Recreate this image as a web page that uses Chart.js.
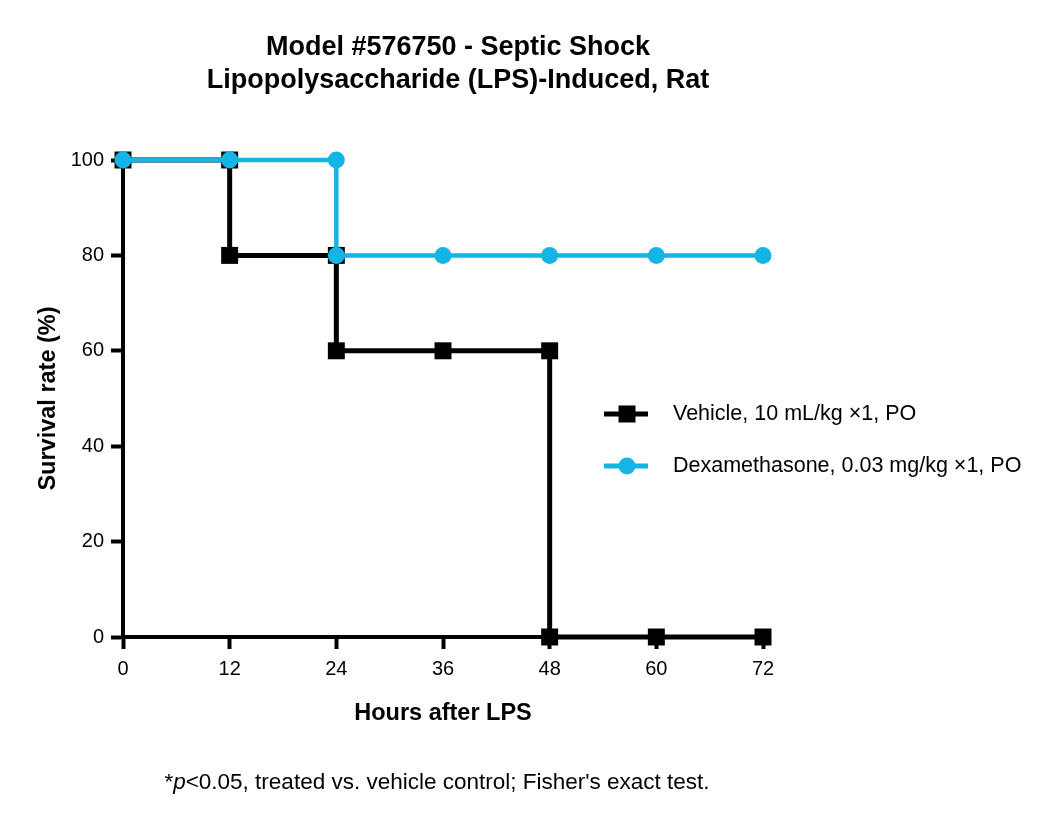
<!DOCTYPE html>
<html>
<head>
<meta charset="utf-8">
<script src="https://cdn.jsdelivr.net/npm/chart.js@4"></script>
<style>
  html, body { margin: 0; padding: 0; background: #fff; }
  #wrap { width: 1050px; height: 828px; position: relative; }
</style>
</head>
<body>
<div id="wrap"><canvas id="chart"></canvas></div>
<script>
// survival data (steps are given as repeated hours)
const vehicleHours = [0, 12, 12, 24, 24, 36, 48, 48, 60, 72];
const vehicleSurvival = [100, 100, 80, 80, 60, 60, 60, 0, 0, 0];
const dexHours = [0, 12, 24, 24, 36, 48, 60, 72];
const dexSurvival = [100, 100, 100, 80, 80, 80, 80, 80];

const seriesLabels = ['Vehicle, 10 mL/kg \u00d71, PO', 'Dexamethasone, 0.03 mg/kg \u00d71, PO'];
const titleLines = ['Model #576750 - Septic Shock', 'Lipopolysaccharide (LPS)-Induced, Rat'];
const xTitle = 'Hours after LPS';
const yTitle = 'Survival rate (%)';

const BLACK = '#000000';
const BLUE = '#14b4e4';
const FONT = "'Liberation Sans', Arial, sans-serif";

function toPoints(xs, ys) {
  return xs.map((x, i) => ({ x: x, y: ys[i] }));
}

// titles, legend and footnote drawn on top of the chart
const extras = {
  id: 'extras',
  afterDraw(chart) {
    const ctx = chart.ctx;
    ctx.save();
    ctx.fillStyle = '#000';
    ctx.textAlign = 'center';
    ctx.textBaseline = 'middle';
    ctx.font = 'bold 27px ' + FONT;
    ctx.fillText(titleLines[0], 458, 48);
    ctx.fillText(titleLines[1], 458, 81);

    // legend
    const items = [
      { label: seriesLabels[0], color: BLACK, style: 'rect', y: 414 },
      { label: seriesLabels[1], color: BLUE, style: 'circle', y: 466 },
    ];
    items.forEach(it => {
      ctx.strokeStyle = it.color;
      ctx.lineWidth = 5;
      ctx.beginPath();
      ctx.moveTo(604, it.y);
      ctx.lineTo(648, it.y);
      ctx.stroke();
      ctx.fillStyle = it.color;
      if (it.style === 'rect') {
        ctx.fillRect(627 - 8.5, it.y - 8.5, 17, 17);
      } else {
        ctx.beginPath();
        ctx.arc(627, it.y, 8.5, 0, Math.PI * 2);
        ctx.fill();
      }
      ctx.fillStyle = '#000';
      ctx.textAlign = 'left';
      ctx.font = '21.5px ' + FONT;
      ctx.fillText(it.label, 673, it.y);
    });

    // footnote with italic p
    const parts = [
      { t: '*', f: '22.5px ' + FONT },
      { t: 'p', f: 'italic 22.5px ' + FONT },
      { t: "<0.05, treated vs. vehicle control; Fisher's exact test.", f: '22.5px ' + FONT },
    ];
    let total = 0;
    parts.forEach(p => { ctx.font = p.f; p.w = ctx.measureText(p.t).width; total += p.w; });
    let x = 437 - total / 2;
    ctx.textAlign = 'left';
    parts.forEach(p => { ctx.font = p.f; ctx.fillText(p.t, x, 783); x += p.w; });
    ctx.restore();
  }
};

new Chart(document.getElementById('chart'), {
  type: 'line',
  data: {
    datasets: [
      {
        label: seriesLabels[1],
        data: toPoints(dexHours, dexSurvival),
        borderColor: BLUE,
        backgroundColor: BLUE,
        borderWidth: 4.5,
        pointStyle: 'circle',
        pointRadius: 8.5,
        pointBorderWidth: 0,
        clip: false,
      },
      {
        label: seriesLabels[0],
        data: toPoints(vehicleHours, vehicleSurvival),
        borderColor: BLACK,
        backgroundColor: BLACK,
        borderWidth: 5,
        pointStyle: 'rect',
        pointRadius: 12,
        pointBorderWidth: 0,
        clip: false,
      },
    ],
  },
  options: {
    responsive: true,
    maintainAspectRatio: false,
    animation: false,
    events: [],
    layout: { padding: { left: 0, top: 160, right: 287, bottom: 90 } },
    scales: {
      x: {
        type: 'linear',
        min: 0,
        max: 72,
        afterFit: s => { s.height = 101; },
        ticks: { stepSize: 12, padding: 8, color: '#000', font: { family: FONT, size: 20 } },
        grid: { drawOnChartArea: false, tickLength: 12, tickWidth: 4, tickColor: '#000' },
        border: { display: true, width: 4, color: '#000' },
        title: { display: true, text: xTitle, color: '#000', padding: { top: 0, bottom: 10 }, font: { family: FONT, size: 23.5, weight: 'bold' } },
      },
      y: {
        min: 0,
        max: 100,
        afterFit: s => { s.width = 123; },
        ticks: { stepSize: 20, padding: 7, color: '#000', font: { family: FONT, size: 20 } },
        grid: { drawOnChartArea: false, tickLength: 12, tickWidth: 4, tickColor: '#000' },
        border: { display: true, width: 4, color: '#000' },
        title: { display: true, text: yTitle, color: '#000', padding: { top: 34, bottom: 0 }, font: { family: FONT, size: 23.5, weight: 'bold' } },
      },
    },
    plugins: {
      legend: { display: false },
      tooltip: { enabled: false },
    },
  },
  plugins: [extras],
});
</script>
</body>
</html>
